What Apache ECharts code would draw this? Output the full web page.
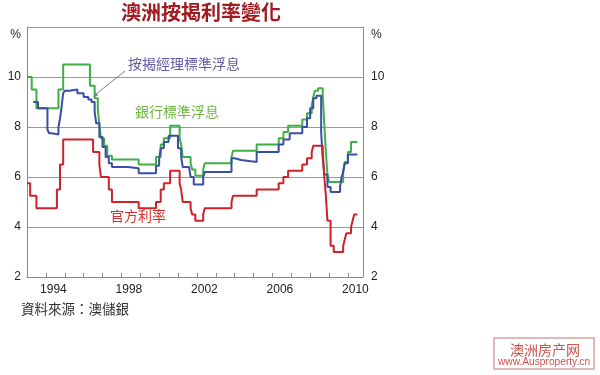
<!DOCTYPE html>
<html><head><meta charset="utf-8">
<script src="https://cdn.jsdelivr.net/npm/echarts@6/dist/echarts.min.js"></script>
<style>html,body{margin:0;padding:0;background:#fff}#c{width:600px;height:375px}</style>
</head><body><div id="c"></div>
<script>
// Official cash rate (官方利率)
const cashDates = ['1993-01','1993-03','1993-07','1994-08','1994-10','1994-12','1996-07','1996-11','1996-12','1997-05','1997-07','1998-12','1999-11','2000-02','2000-04','2000-08','2001-02','2001-03','2001-04','2001-09','2001-10','2001-12','2002-05','2002-06','2003-11','2003-12','2005-03','2006-05','2006-08','2006-11','2007-08','2007-11','2008-02','2008-03','2008-09','2008-10','2008-11','2008-12','2009-02','2009-04','2009-10','2009-11','2009-12','2010-03','2010-04','2010-05','2010-07'];
const cashRates = [5.75,5.25,4.75,5.5,6.5,7.5,7.0,6.5,6.0,5.5,5.0,4.75,5.0,5.5,5.75,6.25,5.75,5.5,5.0,4.75,4.5,4.25,4.5,4.75,5.0,5.25,5.5,5.75,6.0,6.25,6.5,6.75,7.0,7.25,7.0,6.0,5.25,4.25,3.25,3.0,3.25,3.5,3.75,4.0,4.25,4.5,4.5];
// Banks' standard variable (銀行標準浮息)
const bankDates = ['1993-01','1993-04','1993-07','1994-09','1994-12','1996-05','1996-08','1996-10','1996-11','1996-12','1997-02','1997-04','1997-07','1998-12','1999-11','2000-02','2000-04','2000-08','2001-02','2001-03','2001-04','2001-09','2001-10','2001-12','2002-05','2002-06','2003-11','2003-12','2005-03','2006-05','2006-08','2006-11','2007-08','2007-11','2008-02','2008-03','2008-04','2008-06','2008-09','2008-10','2008-11','2008-12','2009-01','2009-10','2009-11','2010-01','2010-03','2010-07'];
const bankRates = [10.0,9.5,8.75,9.5,10.5,9.65,9.15,8.7,8.1,7.55,7.25,6.85,6.7,6.5,6.8,7.3,7.55,8.05,7.55,7.3,6.8,6.55,6.3,6.05,6.3,6.55,6.8,7.05,7.3,7.55,7.8,8.05,8.3,8.55,8.85,9.2,9.45,9.55,9.3,8.1,7.0,6.1,5.8,6.2,6.6,7.0,7.4,7.4];
// Mortgage managers' standard variable (按揭經理標準浮息)
const mgrDates = ['1993-05','1993-08','1994-02','1994-03','1994-05','1994-09','1994-10','1994-11','1994-12','1995-01','1995-04','1995-09','1996-01','1996-04','1996-06','1996-08','1996-09','1996-11','1997-01','1997-03','1997-05','1997-07','1998-05','1998-12','1999-11','2000-01','2000-02','2000-04','2000-07','2001-01','2001-03','2001-04','2001-08','2001-09','2001-11','2002-05','2002-06','2003-11','2004-01','2004-05','2005-03','2006-05','2006-08','2006-12','2007-08','2007-11','2008-01','2008-03','2008-05','2008-08','2008-09','2008-10','2008-12','2009-02','2009-08','2009-09','2009-10','2009-11','2010-01','2010-07'];
const mgrRates = [9.0,8.75,7.9,7.75,7.7,8.0,8.35,8.8,9.35,9.45,9.5,9.35,9.2,9.1,9.0,8.6,8.15,7.6,7.2,6.8,6.55,6.4,6.35,6.15,6.45,6.7,7.15,7.4,7.65,7.15,6.8,6.4,6.35,6.0,5.7,6.0,6.2,6.75,6.68,6.6,7.0,7.3,7.5,7.75,8.0,8.35,8.75,9.15,9.25,7.8,6.75,6.1,5.6,5.4,5.6,6.0,6.2,6.55,6.9,6.9];
const xLabelYears = [1994, 1998, 2002, 2006, 2010];
const yLabelValues = [2, 4, 6, 8, 10];

function toYear(s){ return +s.slice(0,4) + (+s.slice(5,7) - 1) / 12; }
function pairs(d, v){ return d.map((s, i) => [toYear(s), v[i]]); }

const numFont = 'Liberation Sans, Arial, sans-serif';
const yLabelFmt = v => v === 12 ? '{p|%}' : (yLabelValues.includes(v) ? String(v) : '');
function yAxis(pos, margin, split){
  return {
    type: 'value', position: pos, min: 2, max: 12, interval: 2,
    axisLine: {show: true, lineStyle: {color: '#8a8a8a', width: 1}},
    axisTick: {show: false},
    splitLine: {show: split, lineStyle: {color: '#9a9a9a', width: 1}},
    axisLabel: {margin: margin, color: '#222', fontSize: 12, fontFamily: numFont,
      formatter: yLabelFmt,
      rich: {p: {fontSize: 12, color: '#222', fontFamily: numFont, padding: [15, 0, 0, 0]}}}
  };
}

const chart = echarts.init(document.getElementById('c'), null, {renderer: 'canvas'});
chart.setOption({
  animation: false,
  backgroundColor: '#fff',
  grid: {left: 27, right: 237, top: 27, bottom: 98},
  xAxis: {
    type: 'value', min: 1993, max: 2010.8, interval: 1,
    axisLine: {show: true, onZero: false, lineStyle: {color: '#8a8a8a', width: 1}},
    axisTick: {show: true, inside: true, length: 4, lineStyle: {color: '#8a8a8a'}},
    splitLine: {show: false},
    axisLabel: {margin: 7, color: '#222', fontSize: 12, fontFamily: numFont, padding: [0, 0, 0, 15],
      formatter: v => xLabelYears.includes(v) ? String(v) : ''}
  },
  yAxis: [yAxis('left', 6, true), yAxis('right', 8, false)],
  series: [
    {type: 'line', step: 'end', symbol: 'none', data: pairs(bankDates, bankRates),
      lineStyle: {color: '#3fae45', width: 2}, itemStyle: {color: '#3fae45'}, z: 2},
    {type: 'line', step: 'end', symbol: 'none', data: pairs(mgrDates, mgrRates),
      lineStyle: {color: '#3a4ea3', width: 2}, itemStyle: {color: '#3a4ea3'}, z: 3},
    {type: 'line', step: 'end', symbol: 'none', data: pairs(cashDates, cashRates),
      lineStyle: {color: '#cc2229', width: 2}, itemStyle: {color: '#cc2229'}, z: 4}
  ],
  graphic: [
    {type: 'text', left: 121, top: 2, style: {text: '澳洲按揭利率變化', fill: '#a11a1f',
      font: 'bold 20px "Noto Sans CJK TC", sans-serif'}},
    {type: 'text', left: 128, top: 57, style: {text: '按揭經理標準浮息', fill: '#675aa6',
      font: '14px "Noto Sans CJK TC", sans-serif'}},
    {type: 'text', left: 135, top: 105, style: {text: '銀行標準浮息', fill: '#6fb843',
      font: '14px "Noto Sans CJK TC", sans-serif'}},
    {type: 'text', left: 110, top: 209, style: {text: '官方利率', fill: '#d3302b',
      font: '14px "Noto Sans CJK TC", sans-serif'}},
    {type: 'line', shape: {x1: 125, y1: 71, x2: 95, y2: 95}, style: {stroke: '#808080', lineWidth: 1}, z: 10},
    {type: 'polygon', shape: {points: [[93, 97], [98.1, 95.5], [95.7, 92.3]]}, style: {fill: '#808080'}, z: 10},
    {type: 'text', left: 21, top: 302, style: {text: '資料來源：澳儲銀', fill: '#333',
      font: '13.5px "Noto Sans CJK TC", sans-serif'}},
    {type: 'rect', shape: {x: 494, y: 338, width: 100, height: 31}, style: {fill: 'none', stroke: '#d8a3a3', lineWidth: 1.5}},
    {type: 'text', x: 545, y: 350, style: {text: '澳洲房产网', fill: '#c9534d', align: 'center', verticalAlign: 'middle',
      font: '14px "Noto Sans CJK SC", sans-serif'}},
    {type: 'text', x: 544, y: 362, style: {text: 'www.Ausproperty.cn', fill: '#c9534d', align: 'center', verticalAlign: 'middle',
      font: '10.2px "Liberation Sans", Arial, sans-serif'}}
  ]
});
</script></body></html>
